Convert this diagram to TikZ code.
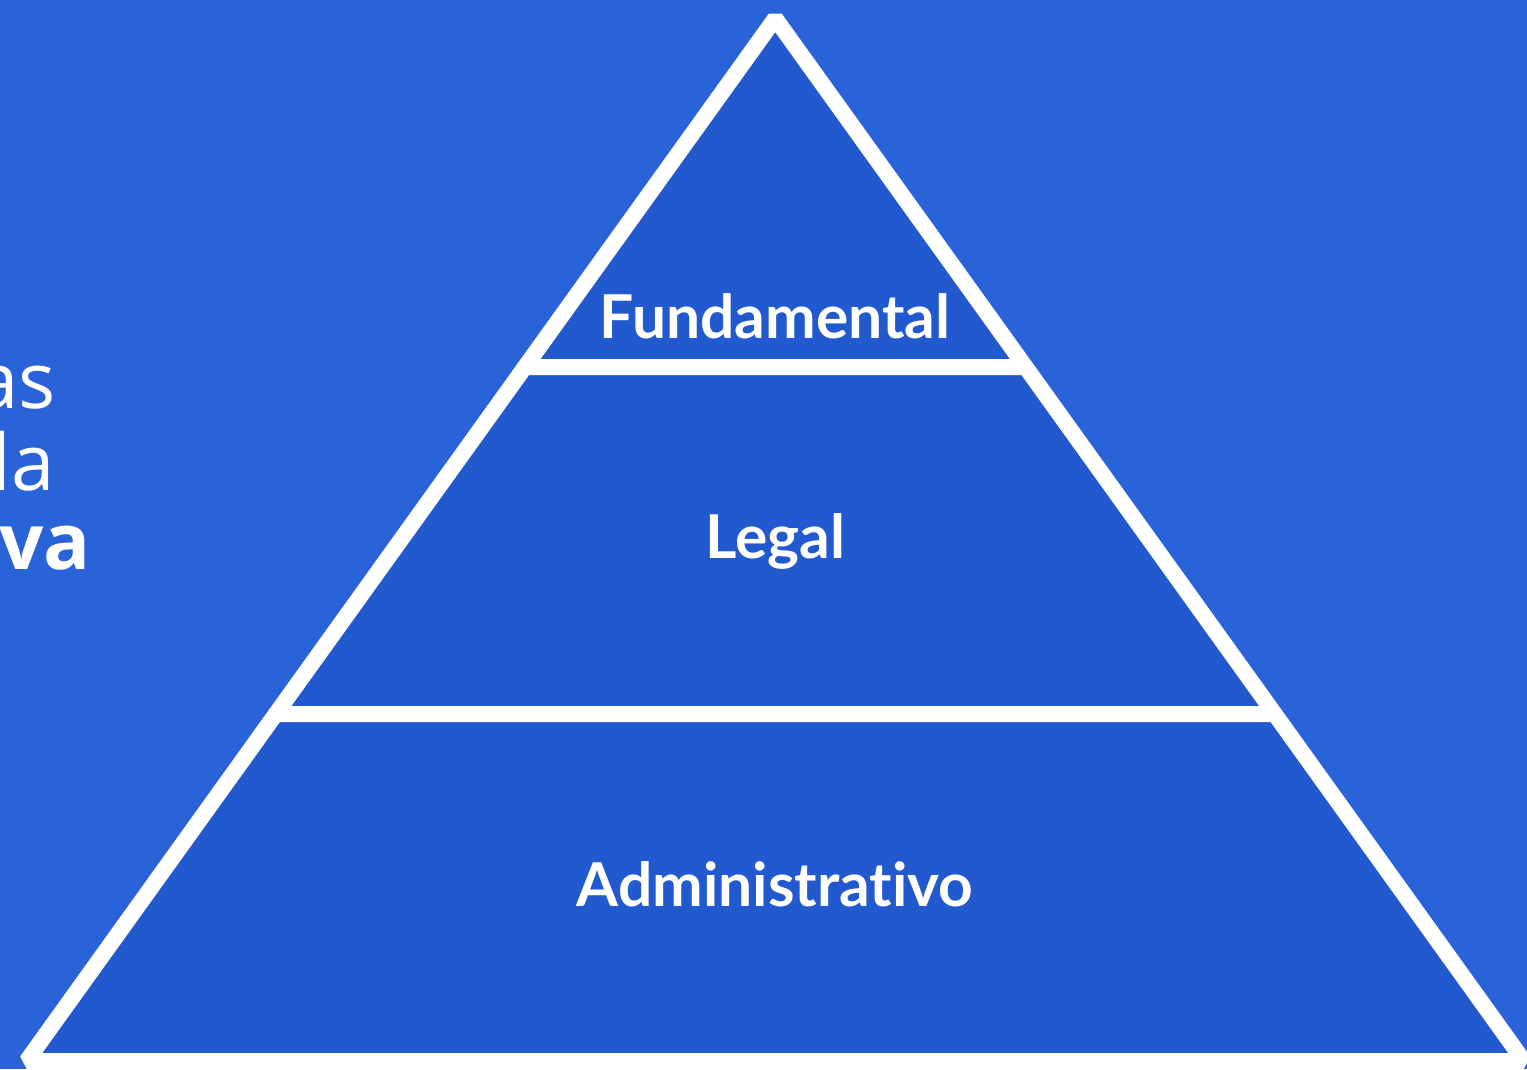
\documentclass[tikz,border=0pt]{standalone}
\usepackage{fontspec}
\setmainfont{Lato}[Ligatures={NoCommon}]
\newfontfamily\leftfont{Open Sans}
\definecolor{bgblue}{HTML}{2A63D8}
\definecolor{layerblue}{HTML}{2259CE}
\tikzset{
  layer/.style={fill=layerblue, draw=white, line width=16pt, line join=bevel},
  layertext/.style={text=white, font=\fontsize{60.5}{70}\selectfont\bfseries, anchor=base, inner sep=0pt},
  sidetext/.style={text=white, font=\leftfont\fontsize{78}{80}\selectfont, anchor=base east, inner sep=0pt}
}
\begin{document}
\begin{tikzpicture}[x=1pt,y=-1pt]
\useasboundingbox (0,0) rectangle (1527,1069);
\clip (0,0) rectangle (1527,1069);
\fill[bgblue] (0,0) rectangle (1527,1069);
% corners
\coordinate (apex) at (775.25,18.4);
\coordinate (l1) at (524.95,367);
\coordinate (r1) at (1025.55,367);
\coordinate (l2) at (275.8,714);
\coordinate (r2) at (1274.7,714);
\coordinate (l3) at (26.7,1061);
\coordinate (r3) at (1523.8,1061);
% layers
\draw[layer] (apex) -- (r1) -- (l1) -- cycle;
\draw[layer] (l1) -- (r1) -- (r2) -- (l2) -- cycle;
\draw[layer] (l2) -- (r2) -- (r3) -- (l3) -- cycle;
% labels
\node[layertext] (fund) at (775,338) {Fundamental};
\node[layertext] (legal) at (775,558) {Legal};
\node[layertext] (admin) at (775,906) {Administrativo};
% cut-off side text
\node[sidetext] (s1) at (56,408) {as};
\node[sidetext] (s2) at (55,490) {la};
\node[sidetext, font=\leftfont\fontsize{78}{80}\selectfont\bfseries] (s3) at (91,569) {va};
\end{tikzpicture}
\end{document}
